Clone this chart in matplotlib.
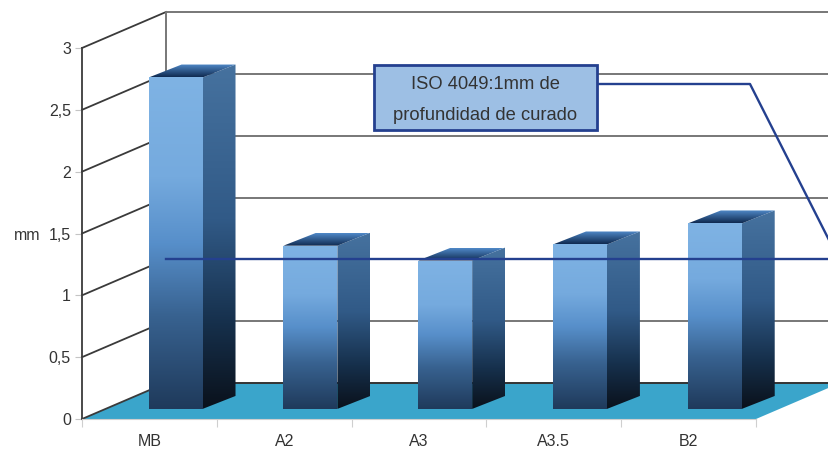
import matplotlib
matplotlib.use('Agg')
import matplotlib.pyplot as plt
import numpy as np
from matplotlib.colors import LinearSegmentedColormap
from matplotlib.patches import Polygon, Rectangle

plt.rcParams['font.family'] = ['Liberation Sans', 'DejaVu Sans']

# Data
categories = ['MB', 'A2', 'A3', 'A3.5', 'B2']
depth_mm = [2.68, 1.32, 1.20, 1.33, 1.50]
y_ticks = [0, 0.5, 1, 1.5, 2, 2.5, 3]
y_tick_labels = ['0', '0,5', '1', '1,5', '2', '2,5', '3']
iso_limit = 1
iso_text = 'ISO 4049:1mm de\nprofundidad de curado'

# Oblique projection of the fake 3D box, in data units
DX = 84 / 134.8
DY = 36 / 123.67
BAR_W = 0.40
BAR_NEAR = 0.28
BAR_FAR = 0.64
X_MAX = 747 / 134.8 - 0.5

# Colour ramps run from the upper edge of a face to its lower edge
front_cmap = LinearSegmentedColormap.from_list('front', [
    (0, '#7fb3e4'), (0.3, '#75aade'), (0.5, '#578fca'), (0.72, '#386290'), (1, '#1f3a5b')])
side_cmap = LinearSegmentedColormap.from_list('side', [
    (0, '#46729f'), (0.45, '#315a87'), (0.75, '#16304c'), (1, '#0a111b')])
top_cmap = LinearSegmentedColormap.from_list('top', [(0, '#5089c8'), (1, '#0f2a50')])

fig = plt.figure(figsize=(8.29, 4.49), dpi=100)
ax = fig.add_axes([82 / 829, 30 / 449, 747 / 829, 371 / 449])
ax.set_xlim(-0.5, X_MAX)
ax.set_ylim(0, 3)


def project(x, y, d):
    return x + DX * d, y + DY * d


def gradient_face(points, cmap, z):
    pts = np.array(points)
    grad = np.linspace(0, 1, 256).reshape(-1, 1)
    im = ax.imshow(grad, cmap=cmap, aspect='auto', zorder=z, vmin=0, vmax=1, origin='upper',
                   extent=(pts[:, 0].min(), pts[:, 0].max(), pts[:, 1].min(), pts[:, 1].max()))
    im.set_clip_path(Polygon(pts, transform=ax.transData, fc='none', ec='none'))
    return im


# Floor
floor = [project(-0.5, 0, 0), project(4.5, 0, 0), project(4.5, 0, 1), project(-0.5, 0, 1)]
ax.add_patch(Polygon(floor, fc='#3aa5cb', ec='none', clip_on=False, zorder=1))

# Back wall and left wall grid lines
for t in y_ticks:
    x0, y0 = project(-0.5, t, 1)
    ax.plot([x0, X_MAX + 0.1], [y0, y0], color='#777777' if t > 0 else '#333333', lw=1.4,
            clip_on=False, zorder=1.5)
    ax.plot([-0.5, x0], [t, y0], color='#3a3a3a', lw=1.3, clip_on=False, zorder=1.5)
x0, y0 = project(-0.5, 0, 1)
ax.plot([x0, x0], [y0, 3 + DY], color='#777777', lw=1.4, clip_on=False, zorder=1.5)

# Bars
for i, v in enumerate(depth_mm):
    cx = i + 0.02
    xl, xr = cx - BAR_W / 2, cx + BAR_W / 2
    a = project(xl, 0, BAR_NEAR)
    b = project(xr, 0, BAR_NEAR)
    c = project(xr, 0, BAR_FAR)
    base = a[1]
    top = base + v
    back = c[1] - b[1]
    shift = DX * (BAR_FAR - BAR_NEAR) + 0.02
    front = [(a[0], base), (b[0], base), (b[0], top), (a[0], top)]
    side = [(b[0], base), (b[0] + shift, base + back), (b[0] + shift, top + back), (b[0], top)]
    lid = [(a[0], top), (b[0], top), (b[0] + shift, top + back), (a[0] + shift, top + back)]
    gradient_face(side, side_cmap, 3)
    gradient_face(lid, top_cmap, 3)
    gradient_face(front, front_cmap, 3)

ax.set_xlim(-0.5, X_MAX)
ax.set_ylim(0, 3)

# ISO reference line on the back wall
x0, y0 = project(-0.5, iso_limit, 1)
ax.plot([x0, X_MAX + 0.1], [y0, y0], color='#24408f', lw=1.7, clip_on=False, zorder=4)

# Axes
for name in ['top', 'right']:
    ax.spines[name].set_visible(False)
ax.spines['left'].set_color('#3a3a3a')
ax.spines['left'].set_linewidth(1.3)
ax.spines['bottom'].set_color('#cfcfcf')
ax.spines['bottom'].set_bounds(-0.5, 4.5)
ax.patch.set_visible(False)
ax.set_yticks(y_ticks, y_tick_labels)
ax.set_xticks(np.arange(-0.5, 5), [''] * 6)
ax.set_xticks(range(5), categories, minor=True)
ax.tick_params(axis='y', length=5, color='#c4c4c4', labelsize=11.5, labelcolor='#333333', pad=3)
ax.tick_params(axis='x', which='major', length=6, color='#cfcfcf')
ax.tick_params(axis='x', which='minor', length=0, labelsize=11.5, labelcolor='#333333', pad=11)
fig.text(27.5 / 829, 1 - 235 / 449, 'mm', fontsize=11.5, color='#333333', ha='center', va='center')

# Callout box with its leader line
leader_x = [597 / 829, 750 / 829, 829 / 829]
leader_y = [1 - 84 / 449, 1 - 84 / 449, 1 - 240 / 449]
fig.add_artist(plt.Line2D(leader_x, leader_y, color='#24408f', lw=1.7, zorder=5))
fig.add_artist(Rectangle((374 / 829, 1 - 130 / 449), 223 / 829, 65 / 449, fc='#9dbfe4', ec='#24408f',
                         lw=2, transform=fig.transFigure, zorder=6))
fig.text(485.5 / 829, 1 - 100 / 449, iso_text, fontsize=13.2, color='#333333', ha='center', va='center',
         linespacing=2.15, zorder=7)

fig.savefig('out.png', dpi=100)
